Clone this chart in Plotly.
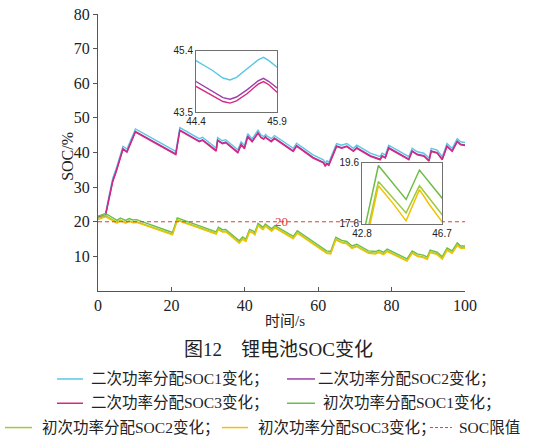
import plotly.graph_objects as go

# ---------------- data ----------------
t_sec = [0, 1, 2, 3, 4, 5, 5.7, 6.8, 7.9, 10.2, 21.2, 22.3, 27.6, 28.5, 32.2, 32.6, 33.9, 34.8,
         38.1, 39.0, 39.9, 40.8, 42.0, 43.6, 44.4, 44.7, 44.9, 45.03, 45.15, 45.35, 45.55, 45.65,
         45.75, 45.9, 47.2, 48.1,
         53.2, 54.1, 58.6, 61.4, 61.9, 62.4, 62.9, 65.0, 66.4, 67.8, 69.6, 70.5, 74.2, 76.9,
         77.4, 78.3, 79.2, 84.7, 85.6, 87.0, 88.8, 90.2, 90.8, 92.4, 93.8, 95.1, 96.5, 97.9,
         98.8, 100]
sec_soc1 = [21.6, 21.8, 22.0, 27.5, 32.5, 35.5, 37.8, 41.8, 41.0, 46.8, 40.3, 47.2, 44.0, 44.4,
            41.3, 44.3, 43.4, 43.7, 40.8, 43.1, 42.0, 45.4, 44.0, 46.4,
            45.1, 44.8, 44.56, 44.5, 44.58, 44.85, 45.12, 45.2, 45.1, 44.9,
            44.0, 44.9, 41.2, 42.7, 39.3, 37.9, 37.0, 37.6, 37.2, 42.6, 42.1, 42.6,
            41.2, 42.1, 39.8, 38.8, 39.8, 39.3, 42.1, 38.8, 41.2, 40.2, 39.8, 38.4, 41.2, 40.7,
            38.8, 42.6, 41.2, 44.0, 43.1, 42.9]
sec_soc2 = [21.3, 21.5, 21.7, 26.8, 31.8, 34.8, 37.1, 41.1, 40.3, 46.1, 39.6, 46.5, 43.3, 43.7,
            40.6, 43.6, 42.7, 43.0, 40.1, 42.4, 41.3, 44.7, 43.3, 45.7,
            44.45, 44.15, 43.95, 43.9, 43.97, 44.2, 44.47, 44.55, 44.45, 44.25,
            43.3, 44.2, 40.5, 42.0, 38.6, 37.2, 36.3, 36.9, 36.5, 41.9, 41.4, 41.9,
            40.5, 41.4, 39.1, 38.1, 39.1, 38.6, 41.4, 38.1, 40.5, 39.5, 39.1, 37.7, 40.5, 40.0,
            38.1, 41.9, 40.5, 43.3, 42.4, 42.2]
sec_soc3 = [21.2, 21.4, 21.6, 26.5, 31.5, 34.6, 36.9, 40.9, 40.1, 45.9, 39.4, 46.3, 43.1, 43.5,
            40.4, 43.4, 42.5, 42.8, 39.9, 42.2, 41.1, 44.5, 43.1, 45.5,
            44.3, 44.02, 43.83, 43.78, 43.85, 44.08, 44.37, 44.45, 44.35, 44.12,
            43.1, 44.0, 40.3, 41.8, 38.4, 37.0, 36.1, 36.7, 36.3, 41.7, 41.2, 41.7,
            40.3, 41.2, 38.9, 37.9, 38.9, 38.4, 41.2, 37.9, 40.3, 39.3, 38.9, 37.5, 40.3, 39.8,
            37.9, 41.7, 40.3, 43.1, 42.2, 42.0]

t_init = [0, 1, 2, 3, 4, 5.2, 6.1, 7.5, 8.5, 9.5, 10.5, 20.3, 21.6, 32.2, 32.8, 33.9, 34.8, 38.5,
          39.4, 40.3, 41.3, 42.2, 42.75, 43.6, 44.3, 44.95, 45.6, 46.1, 46.67, 47.3, 48.2, 53.2,
          54.3, 62.3, 63.4, 64.8, 66.4, 67.8, 69.2, 70.5, 73.7, 75.6, 76.5, 77.8, 78.8, 84.2,
          85.6, 87.0, 88.8, 89.7, 90.5, 92.4, 93.8, 95.1, 96.5, 97.9, 98.8, 100]
init_soc1 = [21.6, 21.9, 22.4, 21.8, 21.2, 20.4, 21.1, 20.4, 20.9, 20.5, 20.6, 16.9, 21.1, 17.1,
             18.4, 17.7, 17.8, 14.5, 15.6, 15.0, 17.8, 17.4, 16.9, 19.51, 18.95, 18.4, 19.36,
             18.94, 18.46, 17.95, 18.9, 15.8, 17.4, 11.6, 11.4, 15.5, 14.6, 14.3, 13.0, 13.5,
             11.6, 11.4, 11.8, 11.2, 12.1, 9.3, 11.6, 10.7, 10.3, 9.8, 11.8, 11.2, 9.9, 12.4,
             11.6, 13.9, 13.0, 13.0]
init_soc2 = [21.0, 21.3, 21.8, 21.2, 20.6, 19.8, 20.5, 19.8, 20.3, 19.9, 20.0, 16.4, 20.6, 16.6,
             17.9, 17.2, 17.3, 14.0, 15.1, 14.5, 17.3, 16.9, 16.4, 18.99, 18.45, 17.96, 18.85,
             18.43, 17.93, 17.45, 18.4, 15.3, 16.9, 11.1, 10.9, 15.0, 14.1, 13.8, 12.5, 13.0,
             11.1, 10.9, 11.3, 10.7, 11.6, 8.8, 11.1, 10.2, 9.8, 9.3, 11.3, 10.7, 9.4, 11.9,
             11.1, 13.4, 12.5, 12.5]
init_soc3 = [20.6, 20.9, 21.4, 20.9, 20.3, 19.6, 20.3, 19.6, 20.1, 19.7, 19.8, 16.2, 20.4, 16.4,
             17.7, 17.0, 17.1, 13.8, 14.9, 14.3, 17.1, 16.7, 16.2, 18.85, 18.28, 17.7, 18.72,
             18.22, 17.7, 17.25, 18.2, 15.1, 16.7, 10.9, 10.7, 14.8, 13.9, 13.6, 12.3, 12.8,
             10.9, 10.7, 11.1, 10.5, 11.4, 8.6, 10.9, 10.0, 9.6, 9.1, 11.1, 10.5, 9.2, 11.7,
             10.9, 13.2, 12.3, 12.3]

t_limit = [0, 100]
soc_limit = [20, 20]

names = ["二次功率分配SOC1变化；", "二次功率分配SOC2变化；", "二次功率分配SOC3变化；",
         "初次功率分配SOC1变化；", "初次功率分配SOC2变化；", "初次功率分配SOC3变化；", "SOC限值"]
x_ticks = [0, 20, 40, 60, 80, 100]
y_ticks = [10, 20, 30, 40, 50, 60, 70, 80]
inset1_x = [44.4, 45.9]
inset1_y = [43.5, 45.4]
inset2_x = [42.8, 46.7]
inset2_y = [17.6, 19.6]
title_text = "图12　锂电池SOC变化"
x_title = "时间/s"
y_title = "SOC/%"

# ---------------- style ----------------
colors = ["#5cc6e4", "#9b3fa9", "#d6287f", "#6cbd45", "#9ccb3b", "#f2c200", "#e03c3c"]
W, H = 539, 440
L, R, T, B = 98, 74, 6, 149
PW, PH = W - L - R, H - T - B
SERIF = "Liberation Serif"
SERIF_CJK = "Liberation Serif, Noto Sans CJK SC"
SANS = "Liberation Sans"


def fx(p):
    return (p - L) / PW


def fy(p):
    return (H - B - p) / PH


fig = go.Figure()

sec = [(t_sec, sec_soc1), (t_sec, sec_soc2), (t_sec, sec_soc3)]
ini = [(t_init, init_soc1), (t_init, init_soc2), (t_init, init_soc3)]
allser = sec + ini

# main traces
for i, (tx, vy) in enumerate(allser):
    fig.add_trace(go.Scatter(x=tx, y=vy, mode="lines", name=names[i], showlegend=False,
                             line=dict(color=colors[i], width=1.4), xaxis="x", yaxis="y"))
fig.add_trace(go.Scatter(x=t_limit, y=soc_limit, mode="lines", name=names[6], showlegend=False,
                         line=dict(color=colors[6], width=1, dash="4px,3px"), xaxis="x", yaxis="y"))

# inset 1 (secondary allocation)
for i, (tx, vy) in enumerate(sec):
    fig.add_trace(go.Scatter(x=tx, y=vy, mode="lines", name=names[i], showlegend=False,
                             line=dict(color=colors[i], width=1.4), xaxis="x2", yaxis="y2"))
# inset 2 (initial allocation)
for i, (tx, vy) in enumerate(ini):
    fig.add_trace(go.Scatter(x=tx, y=vy, mode="lines", name=names[i + 3], showlegend=False,
                             line=dict(color=colors[i + 3], width=1.5), xaxis="x3", yaxis="y3"))

axis_line = dict(showline=True, linecolor="#555555", linewidth=1, showgrid=False, zeroline=False)
inset_axis = dict(showline=True, linecolor="#707070", linewidth=1, mirror=True, showgrid=False,
                  zeroline=False, ticks="", tickfont=dict(family=SANS, size=10, color="#222"))

fig.update_layout(
    width=W, height=H,
    margin=dict(l=L, r=R, t=T, b=B),
    paper_bgcolor="white", plot_bgcolor="white",
    showlegend=False,
    xaxis=dict(domain=[0, 1], range=[0, 100], tickvals=x_ticks, ticks="inside", ticklen=4,
               tickcolor="#555", tickfont=dict(family=SERIF, size=16, color="#222"),
               anchor="y", **axis_line),
    yaxis=dict(domain=[0, 1], range=[0, 80], tickvals=y_ticks, ticks="outside", ticklen=4,
               tickcolor="#555", tickfont=dict(family=SERIF, size=16, color="#222"),
               anchor="x", **axis_line),
    xaxis2=dict(domain=[fx(196), fx(277)], range=inset1_x, tickvals=inset1_x, anchor="y2", **inset_axis),
    yaxis2=dict(domain=[fy(107), fy(44)], range=inset1_y, tickvals=inset1_y, anchor="x2", **inset_axis),
    xaxis3=dict(domain=[fx(362), fx(442)], range=inset2_x, tickvals=inset2_x, anchor="y3", **inset_axis),
    yaxis3=dict(domain=[fy(222), fy(159)], range=inset2_y, tickvals=inset2_y, anchor="x3", **inset_axis),
)

annotations = []
shapes = []
# axis titles
annotations.append(dict(x=fx(285), y=fy(322), xref="paper", yref="paper", text=x_title,
                        showarrow=False, font=dict(family=SERIF_CJK, size=15, color="#222"),
                        xanchor="center", yanchor="middle"))
annotations.append(dict(x=fx(68), y=fy(153), xref="paper", yref="paper", text=y_title,
                        showarrow=False, textangle=-90,
                        font=dict(family=SERIF, size=16, color="#222"),
                        xanchor="center", yanchor="middle"))
# limit label
annotations.append(dict(x=50, y=20, xref="x", yref="y", text="20", showarrow=False,
                        font=dict(family=SERIF, size=13, color=colors[6]),
                        xanchor="center", yanchor="middle"))
# title
annotations.append(dict(x=fx(278), y=fy(351), xref="paper", yref="paper", text=title_text,
                        showarrow=False, font=dict(family=SERIF_CJK, size=19, color="#222"),
                        xanchor="center", yanchor="middle"))

# legend, drawn manually in three rows
legend_items = [
    (0, 57, 83, 89, 381.5, "solid"),
    (1, 287, 315, 316, 381.5, "solid"),
    (2, 57, 83, 89, 406.5, "solid"),
    (3, 287, 315, 321, 406.5, "solid"),
    (4, 5, 32, 40, 431.5, "solid"),
    (5, 222, 248, 256, 431.5, "solid"),
    (6, 430, 452, 457, 431.5, "dash"),
]
for idx, x0, x1, xt, yy, dsh in legend_items:
    shapes.append(dict(type="line", xref="paper", yref="paper", x0=fx(x0), x1=fx(x1),
                       y0=fy(yy), y1=fy(yy),
                       line=dict(color=colors[idx], width=1.5 if dsh == "solid" else 1,
                                 dash="solid" if dsh == "solid" else "3px,2px")))
    annotations.append(dict(x=fx(xt), y=fy(yy), xref="paper", yref="paper", text=names[idx],
                            showarrow=False, font=dict(family=SERIF_CJK, size=15.5, color="#222"),
                            xanchor="left", yanchor="middle"))

fig.update_layout(annotations=annotations, shapes=shapes)
fig.write_html("out.html")
